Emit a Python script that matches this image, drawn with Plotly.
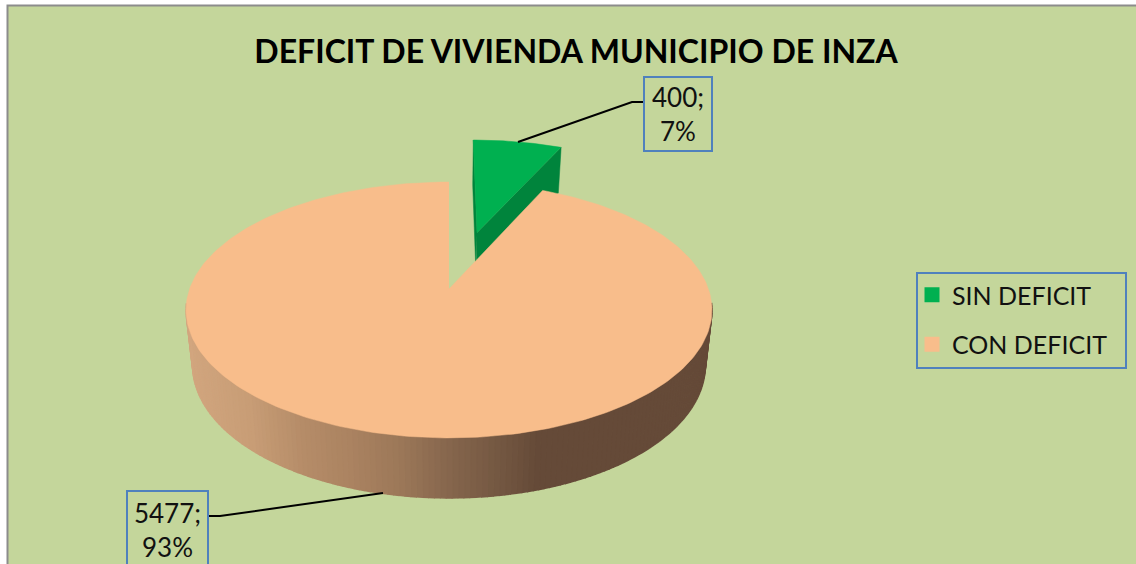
import numpy as np
import plotly.graph_objects as go

categories = ["SIN DEFICIT", "CON DEFICIT"]
values = [400, 5477]
title_text = "DEFICIT DE VIVIENDA MUNICIPIO DE INZA"

BG = "#C4D69B"
GREEN = "#00B050"
GREEN_DARK = "#00843C"
PEACH = "#F8BD8B"
BOX = "#4F81BD"

# perspective projection of the pie disc onto the picture
CX, CY = 449.0, 289.0
K, Q, P = 259.4, 124.5, 0.164
EXPLODE = 0.5


def project(u, v):
    d = 1 + P * v
    return CX + K * u / d, CY - Q * v / d


def base(x, y, v):
    return CX + (x - CX) * 0.975, y + 54 - 6 * v


total = sum(values)
sweep = [2 * np.pi * v / total for v in values]
fig = go.Figure()


def poly(xs, ys, color, width=0.5):
    fig.add_trace(go.Scatter(x=list(xs), y=list(ys), mode="lines", fill="toself", fillcolor=color,
                             line=dict(color=color, width=width), hoverinfo="skip", showlegend=False))


# exploded slice
mid = sweep[0] / 2
du, dv = 1.1 * EXPLODE * np.sin(mid), EXPLODE * np.cos(mid)
t = np.linspace(0, sweep[0], 40)
gu, gv = du + np.sin(t), dv + np.cos(t)
gx, gy = project(gu, gv)
ax, ay = project(np.array([du]), np.array([dv]))
bax, bay = base(ax, ay, dv)
bx, by = base(gx, gy, gv)
# cut faces of the exploded slice
poly([ax[0], gx[-1], bx[-1], bax[0]], [ay[0], gy[-1], by[-1], bay[0]], GREEN_DARK)
poly([ax[0], gx[0], bx[0], bax[0]], [ay[0], gy[0], by[0], bay[0]], GREEN_DARK)
poly(np.r_[ax, gx], np.r_[ay, gy], GREEN)

# rim of the large slice, shaded across the width
stops_x = [187, 250, 300, 350, 400, 450, 500, 540, 711]
stops_c = [(210, 166, 127), (200, 157, 118), (182, 141, 105), (171, 131, 97), (156, 120, 89),
           (134, 102, 77), (116, 88, 66), (101, 74, 56), (101, 74, 56)]
t = np.linspace(sweep[0], 2 * np.pi, 300)
t = t[(np.cos(t) < -0.1)]
ru, rv = np.sin(t), np.cos(t)
rx, ry = project(ru, rv)
bx, by = base(rx, ry, rv)
for i in range(len(t) - 1):
    xm = (rx[i] + rx[i + 1]) / 2
    c = [int(np.interp(xm, stops_x, [s[j] for s in stops_c])) for j in range(3)]
    col = "rgb(%d,%d,%d)" % tuple(c)
    poly([rx[i], rx[i + 1], bx[i + 1], bx[i]], [ry[i], ry[i + 1], by[i + 1], by[i]], col, width=1.5)

# top face of the large slice
t = np.linspace(sweep[0], 2 * np.pi, 300)
px, py = project(np.sin(t), np.cos(t))
poly(np.r_[CX, px], np.r_[CY, py], PEACH)

# legend entries
for name, color in zip(categories, [GREEN, PEACH]):
    fig.add_trace(go.Scatter(x=[None], y=[None], mode="markers", name=name, legendgroup=name,
                             marker=dict(symbol="square", size=15, color=color)))

# leader lines
for lx, ly in [([518, 632, 643], [142, 102, 102]), ([383, 220, 209], [493, 516, 516])]:
    fig.add_trace(go.Scatter(x=lx, y=ly, mode="lines", line=dict(color="black", width=2),
                             hoverinfo="skip", showlegend=False))


def label(i):
    return "%d;<br>%d%%" % (values[i], round(100 * values[i] / total))


fontname = "Lato"
common = dict(showarrow=False, font=dict(family=fontname, size=26, color="#111111"), bordercolor=BOX,
              borderwidth=2, xref="x", yref="y", xanchor="center", yanchor="middle", align="center")
fig.add_annotation(x=677.5, y=114, text=label(0), width=64, height=70, borderpad=1, **common)
fig.add_annotation(x=167, y=530, text=label(1), width=77, height=74, borderpad=1, **common)

fig.update_layout(
    width=1136, height=564, margin=dict(l=0, r=0, t=0, b=0),
    paper_bgcolor="white", plot_bgcolor="white",
    title=dict(text="<b>%s</b>" % title_text, x=576 / 1136, xanchor="center", y=1 - 52 / 564, yanchor="middle",
               font=dict(family=fontname, size=32, color="black")),
    xaxis=dict(range=[0, 1136], visible=False, fixedrange=True),
    yaxis=dict(range=[564, 0], visible=False, fixedrange=True),
    legend=dict(x=912 / 1136, y=1 - 272 / 564, xanchor="left", yanchor="top", bgcolor="rgba(0,0,0,0)",
                borderwidth=0, font=dict(family=fontname, size=25, color="#111111"),
                tracegroupgap=14),
    shapes=[dict(type="rect", xref="x", yref="y", x0=7.5, y0=5.5, x1=1150, y1=580, layer="below",
                 fillcolor=BG, line=dict(color="#8C8C8C", width=2)),
            dict(type="rect", xref="x", yref="y", x0=917, y0=273, x1=1126, y1=368, layer="below",
                 fillcolor=BG, line=dict(color=BOX, width=2))],
)
fig.write_html("out.html", config=dict(displayModeBar=False),
               post_script="document.body.style.margin='0';document.body.style.overflow='hidden';")
